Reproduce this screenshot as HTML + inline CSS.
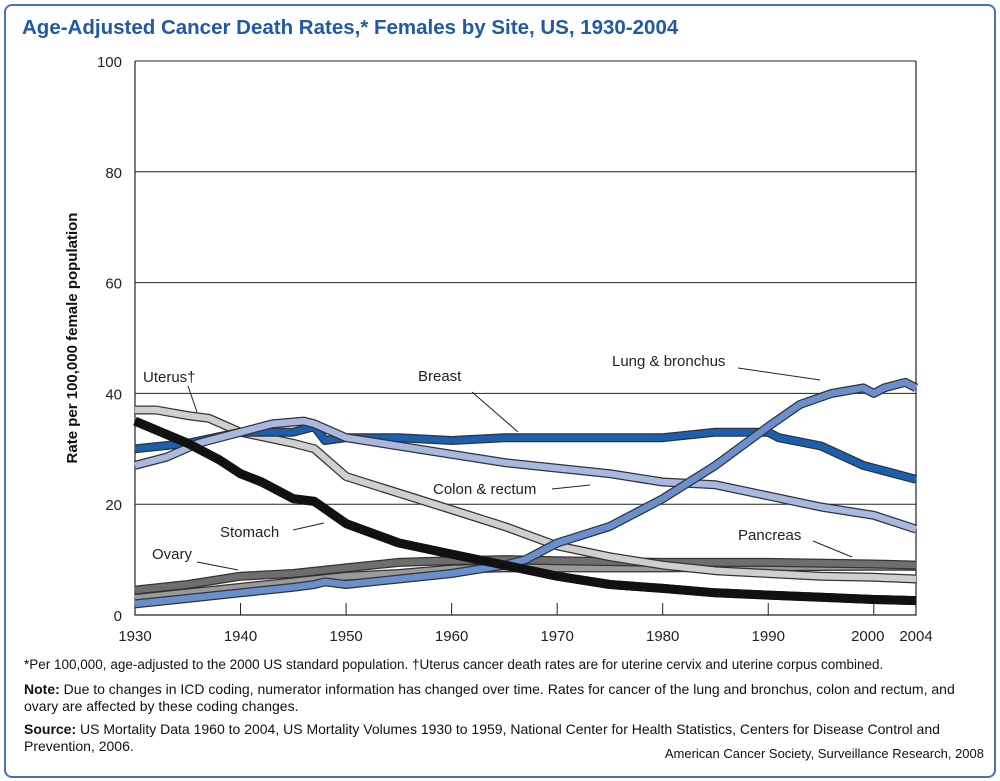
<!DOCTYPE html>
<html><head><meta charset="utf-8"><style>
body{margin:0;background:#fff;font-family:"Liberation Sans",sans-serif}
#frame{position:absolute;left:4px;top:4px;width:988px;height:770px;border:2px solid #4a72b8;border-radius:8px}
#title{position:absolute;left:22px;top:16px;font-size:20.5px;font-weight:bold;color:#1e5aa8}
.fn{position:absolute;left:24px;font-size:14px;color:#111;line-height:16.5px;width:945px}
</style></head><body>
<div id="frame"></div>
<div id="title">Age-Adjusted Cancer Death Rates,* Females by Site, US, 1930-2004</div>
<svg id="chart" width="1000" height="781" style="position:absolute;left:0;top:0"></svg>
<div class="fn" style="top:657px;font-size:13.5px;width:980px">*Per 100,000, age-adjusted to the 2000 US standard population. †Uterus cancer death rates are for uterine cervix and uterine corpus combined.</div>
<div class="fn" style="top:681px"><b>Note:</b> Due to changes in ICD coding, numerator information has changed over time. Rates for cancer of the lung and bronchus, colon and rectum, and ovary are affected by these coding changes.</div>
<div class="fn" style="top:721px"><b>Source:</b> US Mortality Data 1960 to 2004, US Mortality Volumes 1930 to 1959, National Center for Health Statistics, Centers for Disease Control and Prevention, 2006.</div>
<div class="fn" style="top:746px;text-align:right;width:960px;font-size:13px">American Cancer Society, Surveillance Research, 2008</div>
<script>
const yTicks=[0,20,40,60,80,100];
const xTicks=[1930,1940,1950,1960,1970,1980,1990,2000,2004];
const pancreasYears=[1930,1935,1940,1945,1950,1955,1960,1965,1970,1980,1990,2000,2004];
const pancreasVals=[3,4,5,6,7,7.5,8.3,8.5,8.5,8.5,8.7,8.8,8.8];
const ovaryYears=[1930,1935,1940,1945,1950,1955,1960,1965,1970,1980,1990,2000,2004];
const ovaryVals=[4.5,5.5,7,7.5,8.5,9.5,9.8,10,9.8,9.5,9.5,9.2,9];
const uterusYears=[1930,1932,1935,1937,1940,1945,1947,1950,1955,1960,1965,1970,1975,1980,1985,1990,1995,2000,2004];
const uterusVals=[37,37,36,35.5,33,31,30,25,22,19,16,12.5,10.5,9,8,7.5,7,6.8,6.5];
const stomachYears=[1930,1935,1938,1940,1942,1945,1947,1950,1955,1960,1965,1970,1975,1980,1985,1990,1995,2000,2004];
const stomachVals=[35,31,28,25.5,24,21,20.5,16.5,13,11,9,7,5.5,4.8,4,3.6,3.2,2.8,2.6];
const breastYears=[1930,1935,1940,1945,1947,1948,1950,1955,1960,1965,1970,1975,1980,1985,1990,1991,1995,1999,2000,2004];
const breastVals=[30,31,33,33,34,31.5,32,32,31.5,32,32,32,32,33,33,32,30.5,27,26.5,24.5];
const colonYears=[1930,1933,1936,1940,1943,1946,1947,1950,1955,1960,1965,1970,1975,1980,1985,1990,1995,2000,2004];
const colonVals=[27,28.5,31,33,34.5,35,34.5,32,30.5,29,27.5,26.5,25.5,24,23.5,21.5,19.5,18,15.5];
const lungYears=[1930,1935,1940,1945,1947,1948,1950,1955,1960,1965,1967,1970,1975,1980,1985,1990,1993,1996,1999,2000,2001,2003,2004];
const lungVals=[2,3,4,5,5.5,6,5.5,6.5,7.5,9,10,13,16,21,27,34,38,40,41,40,41,42,41];
const NS="http://www.w3.org/2000/svg",svg=document.getElementById('chart');
const X=y=>135+(y-1930)*(916-135)/74, Y=v=>615-v*5.54;
function mk(t,a,p){const e=document.createElementNS(NS,t);for(const k in a)e.setAttribute(k,a[k]);(p||svg).appendChild(e);return e;}
yTicks.forEach(v=>{
 if(v>0){const g=mk('line',{x1:135,x2:916,y1:Y(v),y2:Y(v),stroke:'#222','stroke-width':1});
 
 }
 const t=mk('text',{x:122,y:Y(v)+6,'text-anchor':'end','font-size':15,fill:'#222'});t.textContent=v;
 
 
});
xTicks.forEach(yr=>{
 if(yr>1930&&yr<2004){const l=mk('line',{x1:X(yr),x2:X(yr),y1:615,y2:603,stroke:'#222'});
 
 }
 const t=mk('text',{x:X(yr)+(yr==2000?-6:0),y:641,'text-anchor':'middle','font-size':15,fill:'#222'});t.textContent=yr;
 
 
});
const ax=mk('path',{d:`M135,${Y(100)}V615H916V${Y(100)}`,fill:'none',stroke:'#222','stroke-width':1.2});


const yt=mk('text',{transform:'translate(77,338) rotate(-90)','text-anchor':'middle','font-size':15,'font-weight':'bold',fill:'#111'});
yt.textContent='Rate per 100,000 female population';


function series(name,ys,vs,col){
 const d=ys.map((y,i)=>(i?'L':'M')+X(y).toFixed(1)+','+Y(vs[i]).toFixed(1)).join('');
 const g=mk('g',{});
 
 
 mk('path',{d,fill:'none',stroke:'#333','stroke-width':9,'stroke-linejoin':'round'},g);
 mk('path',{d,fill:'none',stroke:col,'stroke-width':name=='stomach'?9:6.5,'stroke-linejoin':'round'},g);
}
series('pancreas',pancreasYears,pancreasVals,'#9a9a9a');
series('ovary',ovaryYears,ovaryVals,'#6e6e6e');
series('uterus',uterusYears,uterusVals,'#cfcfcf');
series('breast',breastYears,breastVals,'#1a5fb0');
series('colon',colonYears,colonVals,'#a8b8e0');
series('lung',lungYears,lungVals,'#6a8fd0');
series('stomach',stomachYears,stomachVals,'#111');
const labels=[['Uterus†',143,382,188,386,197,412],['Breast',418,381,472,392,518,432],['Lung & bronchus',612,366,738,368,820,380],['Colon & rectum',433,494,552,489,590,485],['Stomach',220,537,293,530,324,523],['Ovary',152,559,197,562,238,570],['Pancreas',738,540,813,541,852,557]];
labels.forEach(l=>{
 const t=mk('text',{x:l[1],y:l[2],'font-size':15,fill:'#222'});t.textContent=l[0];
 
 
 const ln=mk('line',{x1:l[3],y1:l[4],x2:l[5],y2:l[6],stroke:'#222'});
 
 
});
</script>
</body></html>
